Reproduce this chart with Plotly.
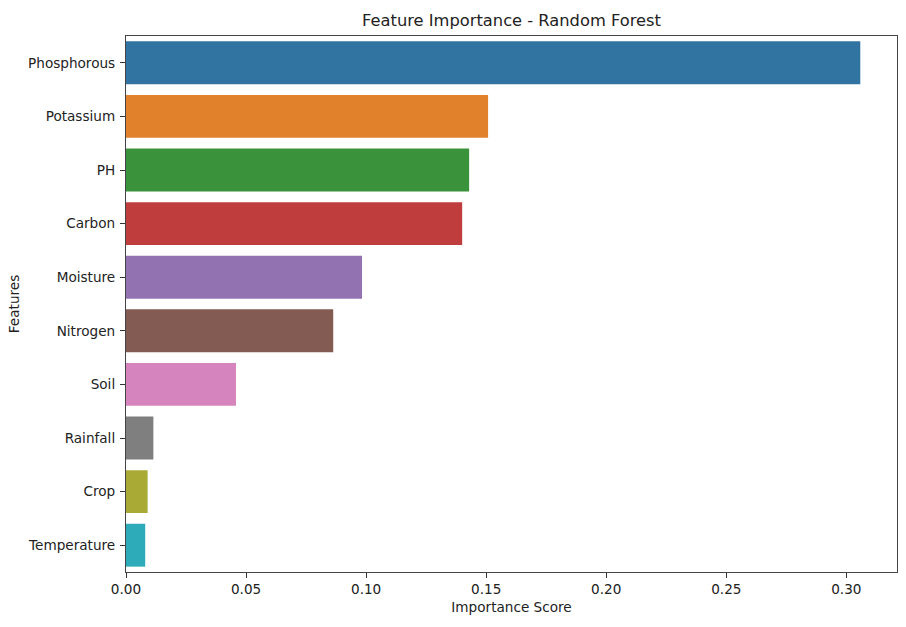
import plotly.graph_objects as go

features = ["Phosphorous", "Potassium", "PH", "Carbon", "Moisture",
            "Nitrogen", "Soil", "Rainfall", "Crop", "Temperature"]
importance = [0.3058, 0.1508, 0.1429, 0.1400, 0.0983,
              0.0863, 0.0458, 0.0114, 0.0090, 0.0080]
colors = ["#3274a1", "#e1812c", "#3a923a", "#c03d3e", "#9372b2",
          "#845b53", "#d684bd", "#7f7f7f", "#a9aa35", "#2eabb8"]
x_ticks = [0.0, 0.05, 0.10, 0.15, 0.20, 0.25, 0.30]
x_tick_labels = ["0.00", "0.05", "0.10", "0.15", "0.20", "0.25", "0.30"]

font = "DejaVu Sans"
fs = 13.6

fig = go.Figure(go.Bar(
    x=importance, y=features, orientation="h",
    marker=dict(color=colors, line=dict(width=0)),
    hoverinfo="x+y",
))

fig.update_layout(
    width=906, height=627,
    margin=dict(l=126, r=9, t=36, b=55),
    paper_bgcolor="white", plot_bgcolor="white",
    bargap=0.2,
    showlegend=False,
    font=dict(family=font, size=fs, color="#222"),
    title=dict(text="Feature Importance - Random Forest", x=0.5, xref="paper",
               y=1 - 20 / 627, yanchor="middle",
               font=dict(family=font, size=16.3, color="#222")),
)
fig.update_xaxes(
    range=[0, max(importance) * 1.05],
    tickvals=x_ticks, ticktext=x_tick_labels,
    ticks="outside", ticklen=5, tickwidth=1, tickcolor="#333",
    showline=True, linecolor="#444", linewidth=1.2, mirror=True,
    showgrid=False, zeroline=False,
    tickfont=dict(size=fs),
    title=dict(text="Importance Score", font=dict(size=fs), standoff=6),
)
fig.update_yaxes(
    autorange="reversed",
    ticks="outside", ticklen=5, tickwidth=1, tickcolor="#333",
    showline=True, linecolor="#444", linewidth=1.2, mirror=True,
    showgrid=False,
    tickfont=dict(size=fs),
    ticklabelstandoff=2,
    title=dict(text="Features", font=dict(size=fs), standoff=5),
)

fig.write_html("out.html")
